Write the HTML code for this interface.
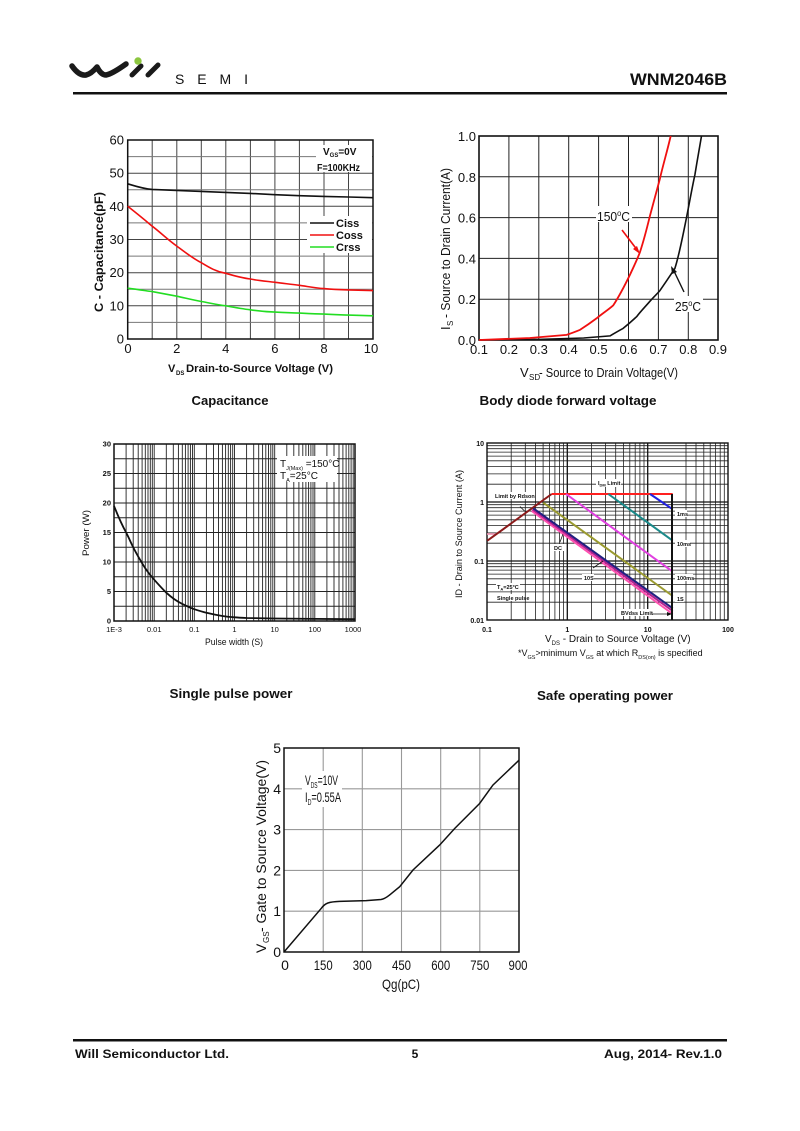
<!DOCTYPE html>
<html><head><meta charset="utf-8"><style>
html,body{margin:0;padding:0;background:#fff}
svg{display:block}
text{font-family:"Liberation Sans",Arial,sans-serif;fill:#111}
.b{font-weight:bold}
</style></head><body>
<svg width="800" height="1131" viewBox="0 0 800 1131" xmlns="http://www.w3.org/2000/svg">
<rect width="800" height="1131" fill="#fff"/>

<!-- HEADER -->
<path d="M72,66 Q79,76 86,75 Q91,74 97,67 Q101,75 106,75 Q112,74 126,64" stroke="#1a1a1a" stroke-width="5.5" fill="none" stroke-linecap="round" stroke-linejoin="round"/>
<line x1="132" y1="75" x2="141" y2="66" stroke="#1a1a1a" stroke-width="5" stroke-linecap="round"/>
<line x1="148" y1="75" x2="158" y2="65" stroke="#1a1a1a" stroke-width="5" stroke-linecap="round"/>
<circle cx="138" cy="61" r="3.7" fill="#8cc63f"/>
<text x="175" y="84" font-size="14" textLength="73" lengthAdjust="spacing" fill="#222">SEMI</text>
<text x="727" y="85" font-size="17" class="b" text-anchor="end" textLength="97" lengthAdjust="spacingAndGlyphs">WNM2046B</text>
<rect x="73" y="92" width="654" height="2.5" fill="#111"/>

<!-- ============ CAPACITANCE ============ -->
<g stroke="#444" stroke-width="1">
<path d="M152.2,140V339M176.8,140V339M201.3,140V339M225.8,140V339M250.4,140V339M274.9,140V339M299.4,140V339M324,140V339M348.5,140V339"/>
<path d="M127.7,173.2H373M127.7,206.3H373M127.7,239.5H373M127.7,272.7H373M127.7,305.8H373"/>
</g>
<g stroke="#777" stroke-width="1">
<path d="M127.7,156.6H373M127.7,189.8H373M127.7,222.9H373M127.7,256.1H373M127.7,289.3H373M127.7,322.4H373"/>
</g>
<rect x="316" y="145" width="56" height="27" fill="#fff"/>
<rect x="307" y="216" width="65" height="37" fill="#fff"/>
<rect x="127.7" y="140" width="245.3" height="199" fill="none" stroke="#111" stroke-width="1.5"/>
<path d="M127.7,183.8 C135,186 143,188.8 152.2,189.4 L176.8,190.4 L201.3,191.4 L225.8,192.4 L250.4,193.4 L274.9,194.7 L299.4,195.7 L324,196.4 L348.5,197 L373,197.7" stroke="#111" stroke-width="1.6" fill="none"/>
<path d="M127.7,206.3 C135,212 140,216 152.2,226.2 C160,232 168,240 176.8,246.1 C186,253 193,258.5 201.3,262.7 C210,268 216,271.5 225.8,273.3 C235,276 242,278 250.4,279 C258,280.5 266,281.2 274.9,282.3 C285,283.5 292,284.5 299.4,285.3 C308,286.5 315,288 324,288.6 C334,289.5 340,289.7 348.5,289.9 L373,290.6" stroke="#f01010" stroke-width="1.6" fill="none"/>
<path d="M127.7,288.2 C138,289.5 145,290.6 152.2,291.6 C160,293 168,294.6 176.8,296.2 C186,298.2 193,300 201.3,301.5 C210,303 216,304.6 225.8,305.8 C235,307.5 242,308.8 250.4,309.8 C258,311 266,311.8 274.9,312.1 C285,312.6 292,312.9 299.4,313.1 C310,313.6 316,313.9 324,314.1 C334,314.6 340,314.8 348.5,315.1 L373,315.8" stroke="#22dd22" stroke-width="1.6" fill="none"/>
<line x1="310" y1="223" x2="334" y2="223" stroke="#111" stroke-width="1.6"/>
<line x1="310" y1="235" x2="334" y2="235" stroke="#f01010" stroke-width="1.6"/>
<line x1="310" y1="247" x2="334" y2="247" stroke="#22dd22" stroke-width="1.6"/>
<text x="336" y="227" font-size="11" class="b">Ciss</text>
<text x="336" y="239" font-size="11" class="b">Coss</text>
<text x="336" y="251" font-size="11" class="b">Crss</text>
<text x="323" y="155" font-size="10" class="b">V<tspan font-size="6" dy="2">GS</tspan><tspan dy="-2">=0V</tspan></text>
<text x="317" y="171" font-size="10" class="b" textLength="43" lengthAdjust="spacingAndGlyphs">F=100KHz</text>
<g font-size="13" text-anchor="end">
<text x="124" y="144.5">60</text><text x="124" y="177.7">50</text><text x="124" y="210.8">40</text><text x="124" y="244">30</text><text x="124" y="277.2">20</text><text x="124" y="310.3">10</text><text x="124" y="343.5">0</text>
</g>
<g font-size="13" text-anchor="middle">
<text x="128" y="353">0</text><text x="176.8" y="353">2</text><text x="225.8" y="353">4</text><text x="274.9" y="353">6</text><text x="324" y="353">8</text><text x="371" y="353">10</text>
</g>
<text x="168" y="372" font-size="11" class="b">V</text>
<text x="176" y="375" font-size="6" class="b">DS</text>
<text x="186" y="372" font-size="11" class="b" textLength="147" lengthAdjust="spacingAndGlyphs">Drain-to-Source Voltage (V)</text>
<text transform="translate(103,312) rotate(-90)" font-size="12" class="b" textLength="120" lengthAdjust="spacingAndGlyphs">C - Capacitance(pF)</text>
<text x="230" y="405" font-size="13" class="b" text-anchor="middle" textLength="77" lengthAdjust="spacingAndGlyphs">Capacitance</text>

<!-- ============ BODY DIODE ============ -->
<g stroke="#222" stroke-width="1">
<path d="M508.9,136V340M538.8,136V340M568.7,136V340M598.6,136V340M628.5,136V340M658.4,136V340M688.3,136V340"/>
<path d="M479,176.8H718M479,217.6H718M479,258.4H718M479,299.2H718"/>
</g>
<rect x="479" y="136" width="239" height="204" fill="none" stroke="#111" stroke-width="1.6"/>
<path d="M479,340 L538.8,339.4 L583.7,338 L610,335.9 C615,333 619,330.5 623.1,328.4 C628,324.5 632,321 636.6,316.7 C641,311 645,307 650,301.2 C654,296.5 657,294 659.9,290.6 C665,283 670,276 674.8,268.6 C679,256 683,235 686.5,217.6 C690,200 692,188 694.9,174.8 C697,162 699,150 701.5,136" stroke="#111" stroke-width="1.6" fill="none"/>
<path d="M479,340 L529.8,338 L566.6,334.9 C572,333 576,331.5 580.1,329.8 C586,326 591,322.5 596.5,318.4 C603,313 608,310 613.3,305.3 C620,295 625,285 630,274.7 C634,266 637,260 639.9,252.3 C644,240 647,228 650,215.6 C654,201 657,190 659.9,178.8 C663,165 667,152 670.7,136" stroke="#f01010" stroke-width="1.8" fill="none"/>
<line x1="622" y1="230" x2="638" y2="251" stroke="#f01010" stroke-width="1.6"/>
<path d="M640,254 L633,249 L637,246 Z" fill="#f01010"/>
<line x1="684" y1="292" x2="673" y2="269" stroke="#111" stroke-width="1.4"/>
<path d="M671,266 L677,272 L672,274 Z" fill="#111"/>
<rect x="596" y="206" width="36" height="16" fill="#fff"/>
<text x="597" y="221" font-size="13" textLength="33" lengthAdjust="spacingAndGlyphs">150<tspan font-size="8" dy="-5">o</tspan><tspan dy="5">C</tspan></text>
<rect x="674" y="296" width="29" height="16" fill="#fff"/>
<text x="675" y="311" font-size="13" textLength="26" lengthAdjust="spacingAndGlyphs">25<tspan font-size="8" dy="-5">o</tspan><tspan dy="5">C</tspan></text>
<g font-size="13" text-anchor="end">
<text x="476" y="141">1.0</text><text x="476" y="181.8">0.8</text><text x="476" y="222.6">0.6</text><text x="476" y="263.4">0.4</text><text x="476" y="304.2">0.2</text><text x="476" y="345">0.0</text>
</g>
<g font-size="13" text-anchor="middle">
<text x="479" y="354">0.1</text><text x="508.9" y="354">0.2</text><text x="538.8" y="354">0.3</text><text x="568.7" y="354">0.4</text><text x="598.6" y="354">0.5</text><text x="628.5" y="354">0.6</text><text x="658.4" y="354">0.7</text><text x="688.3" y="354">0.8</text><text x="718" y="354">0.9</text>
</g>
<text x="520" y="377" font-size="13">V</text>
<text x="529" y="380" font-size="8">SD</text>
<text x="539" y="377" font-size="13" textLength="139" lengthAdjust="spacingAndGlyphs">- Source to Drain Voltage(V)</text>
<text transform="translate(450,330) rotate(-90)" font-size="13">I</text>
<text transform="translate(453,326) rotate(-90)" font-size="8">S</text>
<text transform="translate(450,318) rotate(-90)" font-size="13" textLength="150" lengthAdjust="spacingAndGlyphs">- Source to Drain Current(A)</text>
<text x="568" y="405" font-size="13" class="b" text-anchor="middle" textLength="177" lengthAdjust="spacingAndGlyphs">Body diode forward voltage</text>

<!-- ============ SINGLE PULSE POWER ============ -->
<g stroke="#222" stroke-width="0.9">
<path d="M126.1,444V621M133.2,444V621M138.2,444V621M142.1,444V621M145.3,444V621M148,444V621M150.3,444V621M152.3,444V621M154.2,444V621M166.3,444V621M173.3,444V621M178.4,444V621M182.3,444V621M185.4,444V621M188.1,444V621M190.4,444V621M192.5,444V621M194.3,444V621M206.4,444V621M213.5,444V621M218.5,444V621M222.4,444V621M225.6,444V621M228.3,444V621M230.6,444V621M232.7,444V621M234.5,444V621M246.6,444V621M253.7,444V621M258.7,444V621M262.6,444V621M265.8,444V621M268.5,444V621M270.8,444V621M272.8,444V621M274.7,444V621M286.8,444V621M293.8,444V621M298.9,444V621M302.8,444V621M305.9,444V621M308.6,444V621M310.9,444V621M313,444V621M314.8,444V621M326.9,444V621M334,444V621M339,444V621M342.9,444V621M346.1,444V621M348.8,444V621M351.1,444V621M353.2,444V621"/>
<path d="M114,458.75H355M114,473.5H355M114,488.25H355M114,503H355M114,517.75H355M114,532.5H355M114,547.25H355M114,562H355M114,576.75H355M114,591.5H355M114,606.25H355"/>
</g>
<rect x="277" y="456" width="60" height="26" fill="#fff"/>
<rect x="114" y="444" width="241" height="177" fill="none" stroke="#111" stroke-width="1.5"/>
<path d="M114,505.9 C118,516 122,525 126.1,532.5 C129,538 131,543 133.2,547.25 C136,553 139,558 142.1,563.2 C146,570 150,575 154.2,579.7 C158,584 162,588.5 166.3,592.7 C171,597 176,601 182.3,603.9 C187,606 190,607.8 194.3,609.2 C199,610.8 202,611.8 206.4,612.7 C212,614 217,615.2 222.4,616 C226,616.6 230,617 234.5,617.3 C238,617.6 242,617.8 246.6,618 L274.7,618.5 L314.8,618.9 L355,619.2" stroke="#111" stroke-width="1.8" fill="none"/>
<text x="280" y="467" font-size="10">T<tspan font-size="5.5" dy="3">J(Max)</tspan><tspan dy="-3"> =150°C</tspan></text>
<text x="280" y="479" font-size="10">T<tspan font-size="5.5" dy="3">A</tspan><tspan dy="-3">=25°C</tspan></text>
<g font-size="7.5" class="b" text-anchor="end" fill="#222">
<text x="111" y="446.5">30</text><text x="111" y="476">25</text><text x="111" y="505.5">20</text><text x="111" y="535">15</text><text x="111" y="564.5">10</text><text x="111" y="594">5</text><text x="111" y="623.5">0</text>
</g>
<g font-size="7.5" text-anchor="middle" fill="#222">
<text x="114" y="632">1E-3</text><text x="154.2" y="632">0.01</text><text x="194.3" y="632">0.1</text><text x="234.5" y="632">1</text><text x="274.7" y="632">10</text><text x="314.8" y="632">100</text><text x="353" y="632">1000</text>
</g>
<text x="234" y="645" font-size="9.5" text-anchor="middle" textLength="58" lengthAdjust="spacingAndGlyphs">Pulse width (S)</text>
<text transform="translate(89,556) rotate(-90)" font-size="9" textLength="46" lengthAdjust="spacingAndGlyphs">Power (W)</text>
<text x="231" y="698" font-size="13" class="b" text-anchor="middle" textLength="123" lengthAdjust="spacingAndGlyphs">Single pulse power</text>

<!-- ============ SOA ============ -->
<g stroke="#222" stroke-width="0.8">
<path d="M511.2,443V620M525.3,443V620M535.4,443V620M543.1,443V620M549.5,443V620M554.9,443V620M559.5,443V620M563.6,443V620M591.5,443V620M605.6,443V620M615.7,443V620M623.5,443V620M629.8,443V620M635.2,443V620M639.9,443V620M644,443V620M686,443V620M696,443V620M703.8,443V620M710.2,443V620M715.5,443V620M720.2,443V620M724.3,443V620"/>
<path d="M487,445.7H728M487,448.7H728M487,452.1H728M487,456.1H728M487,460.8H728M487,466.5H728M487,473.9H728M487,484.2H728M487,504.7H728M487,507.7H728M487,511.1H728M487,515.1H728M487,519.8H728M487,525.5H728M487,532.9H728M487,543.2H728M487,563.7H728M487,566.7H728M487,570.1H728M487,574.1H728M487,578.8H728M487,584.5H728M487,591.9H728M487,602.2H728"/>
</g>
<g stroke="#111" stroke-width="1.3">
<path d="M567.3,443V620M647.7,443V620M487,502H728M487,561H728"/>
</g>
<rect x="487" y="443" width="241" height="177" fill="none" stroke="#111" stroke-width="1.4"/>
<g fill="#fff">
<rect x="494" y="492" width="34" height="7"/>
<rect x="596" y="479" width="25" height="8"/>
<rect x="675" y="510" width="12" height="7"/>
<rect x="675" y="540" width="15" height="7"/>
<rect x="675" y="574" width="18" height="7"/>
<rect x="675" y="595" width="9" height="7"/>
<rect x="620" y="609" width="30" height="7"/>
<rect x="552" y="544" width="12" height="7"/>
<rect x="582" y="574" width="12" height="7"/>
<rect x="496" y="583" width="24" height="7"/>
<rect x="496" y="594" width="27" height="7"/>
</g>
<line x1="487" y1="534" x2="495" y2="534" stroke="#f090b0" stroke-width="1.6"/>
<g fill="none" stroke-width="2">
<path d="M487.3,540.7 L551.7,494" stroke="#8b1a1a"/>
<path d="M551.7,494 L672.7,494" stroke="#ff2020"/>
<path d="M650,494 L672.7,509.3" stroke="#2020e0"/>
<path d="M608.3,494 L672.7,540.7" stroke="#1a8a8a"/>
<path d="M566,494 L672.7,571.7" stroke="#e040e0"/>
<path d="M543.3,502.7 L672.7,596" stroke="#9a9a30"/>
<path d="M531.7,511 L672.7,614" stroke="#ff50b0"/>
<path d="M532.5,509.5 L672.7,611" stroke="#b02090"/>
<path d="M533.3,508.3 L672.7,608.3" stroke="#202080"/>
</g>
<line x1="672" y1="494" x2="672" y2="620" stroke="#111" stroke-width="2"/>
<g font-size="5.5" class="b" fill="#222">
<text x="598" y="485">I<tspan font-size="4" dy="1.5">DM</tspan><tspan dy="-1.5"> Limit</tspan></text>
<text x="495" y="498">Limit by Rdson</text>
<text x="677" y="516">1ms</text>
<text x="677" y="546">10ms</text>
<text x="677" y="580">100ms</text>
<text x="677" y="601">1S</text>
<text x="621" y="615">BVdss Limit</text>
<text x="554" y="550">DC</text>
<text x="584" y="580">10S</text>
<text x="497" y="589">T<tspan font-size="4" dy="1.5">A</tspan><tspan dy="-1.5">=25°C</tspan></text>
<text x="497" y="600">Single pulse</text>
</g>
<g stroke="#111" stroke-width="0.8">
<line x1="520" y1="506.5" x2="525" y2="511.5"/>
<line x1="560" y1="542" x2="563" y2="534"/>
<line x1="593" y1="568" x2="603" y2="561"/>
<line x1="652" y1="614" x2="670" y2="614"/>
</g>
<path d="M672,614 L667,612 L667,616 Z" fill="#111"/>
<g font-size="7" class="b" fill="#222" text-anchor="end">
<text x="484" y="446">10</text><text x="484" y="505">1</text><text x="484" y="564">0.1</text><text x="484" y="623">0.01</text>
</g>
<g font-size="7" class="b" fill="#222" text-anchor="middle">
<text x="487" y="632">0.1</text><text x="567.3" y="632">1</text><text x="647.7" y="632">10</text><text x="728" y="632">100</text>
</g>
<text x="545" y="642" font-size="10" fill="#222">V<tspan font-size="6" dy="3">DS</tspan><tspan dy="-3"> - Drain to Source Voltage (V)</tspan></text>
<text x="518" y="656" font-size="9" fill="#222">*V<tspan font-size="5.5" dy="3">GS</tspan><tspan dy="-3">&gt;minimum V</tspan><tspan font-size="5.5" dy="3">GS</tspan><tspan dy="-3"> at which R</tspan><tspan font-size="5.5" dy="3">DS(on)</tspan><tspan dy="-3"> is specified</tspan></text>
<text transform="translate(462,598) rotate(-90)" font-size="9" fill="#222" textLength="128" lengthAdjust="spacingAndGlyphs">ID - Drain to Source Current (A)</text>
<text x="605" y="700" font-size="13" class="b" text-anchor="middle" textLength="136" lengthAdjust="spacingAndGlyphs">Safe operating power</text>

<!-- ============ GATE CHARGE ============ -->
<g stroke="#999" stroke-width="1.1">
<path d="M323.2,748V952M362.3,748V952M401.5,748V952M440.7,748V952M479.8,748V952"/>
<path d="M284,788.8H519M284,829.6H519M284,870.4H519M284,911.2H519"/>
</g>
<rect x="302" y="771" width="40" height="36" fill="#fff"/>
<rect x="284" y="748" width="235" height="204" fill="none" stroke="#111" stroke-width="1.5"/>
<path d="M284,952 L321.3,908.3 C323,906 325,904 327.9,903 C331,902 335,901.6 339.6,901.4 L366.2,900.6 L381,899.5 C385,898.8 387,897 389.7,894.9 L399.7,886.7 L413,870 L439.6,845.1 L454.8,828.4 L479.6,803.5 L492.9,785.1 L519,760.2" stroke="#111" stroke-width="1.5" fill="none"/>
<text x="305" y="785" font-size="14" textLength="33" lengthAdjust="spacingAndGlyphs">V<tspan font-size="8" dy="3">DS</tspan><tspan dy="-3">=10V</tspan></text>
<text x="305" y="802" font-size="14" textLength="36" lengthAdjust="spacingAndGlyphs">I<tspan font-size="8" dy="3">D</tspan><tspan dy="-3">=0.55A</tspan></text>
<g font-size="14" text-anchor="end">
<text x="281" y="753">5</text><text x="281" y="793.8">4</text><text x="281" y="834.6">3</text><text x="281" y="875.4">2</text><text x="281" y="916.2">1</text><text x="281" y="957">0</text>
</g>
<g font-size="14" text-anchor="middle">
<text x="285" y="970">0</text>
<text x="323.2" y="970" textLength="19" lengthAdjust="spacingAndGlyphs">150</text>
<text x="362.3" y="970" textLength="19" lengthAdjust="spacingAndGlyphs">300</text>
<text x="401.5" y="970" textLength="19" lengthAdjust="spacingAndGlyphs">450</text>
<text x="440.7" y="970" textLength="19" lengthAdjust="spacingAndGlyphs">600</text>
<text x="479.8" y="970" textLength="19" lengthAdjust="spacingAndGlyphs">750</text>
<text x="518" y="970" textLength="19" lengthAdjust="spacingAndGlyphs">900</text>
</g>
<text x="382" y="989" font-size="14" textLength="38" lengthAdjust="spacingAndGlyphs">Qg(pC)</text>
<text transform="translate(266,953) rotate(-90)" font-size="14">V</text>
<text transform="translate(269,943) rotate(-90)" font-size="8">GS</text>
<text transform="translate(266,932) rotate(-90)" font-size="14" textLength="172" lengthAdjust="spacingAndGlyphs">- Gate to Source Voltage(V)</text>

<!-- FOOTER -->
<rect x="73" y="1039" width="654" height="2.5" fill="#111"/>
<text x="75" y="1058" font-size="12" class="b" textLength="154" lengthAdjust="spacingAndGlyphs">Will Semiconductor Ltd.</text>
<text x="415" y="1058" font-size="12" class="b" text-anchor="middle">5</text>
<text x="722" y="1058" font-size="12" class="b" text-anchor="end" textLength="118" lengthAdjust="spacingAndGlyphs">Aug, 2014- Rev.1.0</text>
</svg>
</body></html>
